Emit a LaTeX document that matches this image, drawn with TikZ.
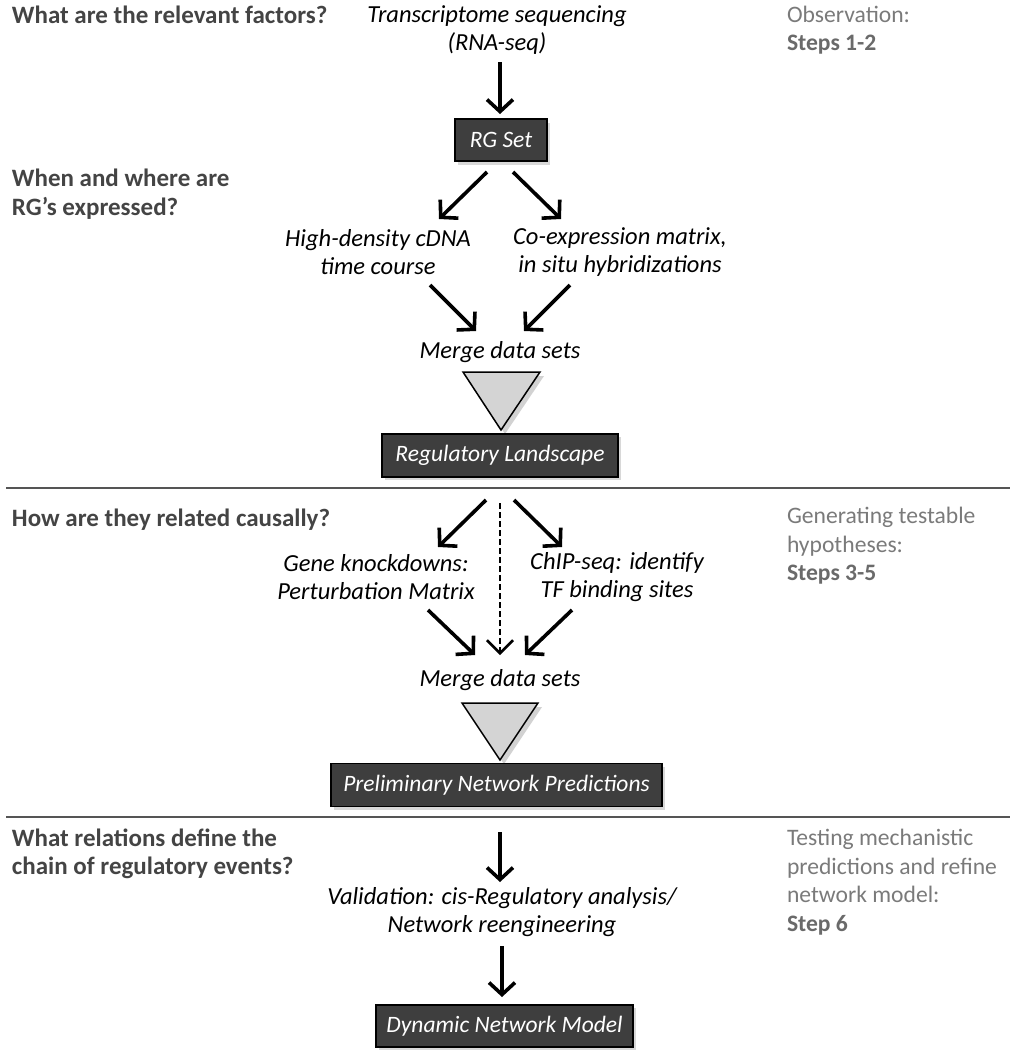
\documentclass[tikz,border=0pt]{standalone}
\usepackage{fontspec}
\setmainfont{Carlito}
\usetikzlibrary{arrows.meta}
\definecolor{headc}{HTML}{444444}
\definecolor{sidec}{HTML}{7A7A7A}
\definecolor{sideb}{HTML}{6A6A6A}
\definecolor{boxc}{HTML}{3E3E3E}
\definecolor{trif}{HTML}{D4D4D4}
\definecolor{sepc}{HTML}{555555}
\newcommand{\myfs}{\fontsize{24.5}{28.5}\selectfont}
\newcommand{\hdfs}{\fontsize{25}{28.5}\selectfont}
\newcommand{\sdfs}{\fontsize{23.6}{28.5}\selectfont}
\newcommand{\bxfs}{\fontsize{23.5}{28.5}\selectfont}
\tikzset{
  every node/.style={inner sep=0pt, outer sep=0pt},
  head/.style={font=\hdfs\bfseries, text=headc, align=left, anchor=west},
  side/.style={font=\sdfs, text=sidec, align=left, anchor=west},
  itext/.style={font=\myfs\itshape, align=center, text=black},
  darkbox/.style={draw=black, line width=1.2pt, fill=boxc, text=white, font=\bxfs\itshape, minimum height=#1},
  darkbox/.default=42pt,
  bigarrow/.style={line width=3.6pt, -{Straight Barb[length=12pt,width=26pt]}},
  dasharrow/.style={line width=2pt, dash pattern=on 6pt off 3pt, -{Straight Barb[length=13pt,width=26pt,line width=2.6pt]}},
  sepline/.style={draw=sepc, line width=1.8pt},
  tri/.style={draw=black, line width=1.5pt, fill=trif, line join=miter},
}
\begin{document}
\begin{tikzpicture}[x=1pt,y=-1pt]
\useasboundingbox (0,0) rectangle (1010,1050);

% left headings
\node[head] (h1) at (12,15) {What are the relevant factors?};
\node[head] (h2) at (12,194) {When and where are\\RG’s expressed?};
\node[head] (h3) at (12,520) {How are they related causally?};
\node[head] (h4) at (12,854) {What relations define the\\chain of regulatory events?};

% right side notes
\node[side] (r1) at (787,30) {Observation:\\\textbf{\color{sideb}Steps 1-2}};
\node[side] (r2) at (787,546) {Generating testable\\hypotheses:\\\textbf{\color{sideb}Steps 3-5}};
\node[side] (r3) at (787,882) {Testing mechanistic\\predictions and refine\\network model:\\\textbf{\color{sideb}Step 6}};

% separators
\draw[sepline] (6,488) coordinate (s1a) -- (1010,488) coordinate (s1b);
\draw[sepline] (6,817) coordinate (s2a) -- (1010,817) coordinate (s2b);

% section 1
\node[itext] (t1) at (497,30) {Transcriptome sequencing\\(RNA-seq)};
\fill[black!30, opacity=0.5] (458,123) rectangle (550,165);
\node[darkbox=42pt, minimum width=92pt] (rg) at (501,140) {RG Set};
\node[itext] (hd) at (378,252) {High-density cDNA\\time course};
\node[itext] (ce) at (620,252) {Co-expression matrix,\\in situ hybridizations};
\node[itext] (m1) at (500,352) {Merge data sets};

% triangle 1 (with soft shadow)
\fill[black!35, opacity=0.5] (467,376) -- (544,376) -- (505,434) -- cycle;
\draw[tri] (463,372) coordinate (tr1a) -- (540,372) coordinate (tr1b) -- (501,430) coordinate (tr1c) -- cycle;

\fill[black!30, opacity=0.5] (385,437) rectangle (621,480);
\node[darkbox=43pt, minimum width=236pt] (rl) at (500,455.5) {Regulatory Landscape};

% section 2
\node[itext] (gk) at (376,577) {Gene knockdowns:\\Perturbation Matrix};
\node[itext] (cs) at (617,577) {ChIP-seq: identify\\TF binding sites};
\node[itext] (m2) at (500,680) {Merge data sets};

\fill[black!35, opacity=0.5] (466,707) -- (542,707) -- (504,764) -- cycle;
\draw[tri] (462,703) coordinate (tr2a) -- (538,703) coordinate (tr2b) -- (500,760) coordinate (tr2c) -- cycle;

\fill[black!30, opacity=0.5] (334,767) rectangle (665,810);
\node[darkbox=43pt, minimum width=331pt] (pn) at (496.5,785) {Preliminary Network Predictions};

% section 3
\node[itext] (va) at (502,912) {Validation: cis-Regulatory analysis/\\Network reengineering};
\fill[black!30, opacity=0.5] (379,1008) rectangle (636,1050);
\node[darkbox=42pt, minimum width=257pt] (dn) at (504.5,1026) {Dynamic Network Model};

% arrow end points
\coordinate (a1s) at (500,62);   \coordinate (a1e) at (500,114);
\coordinate (a2s) at (487,172);  \coordinate (a2e) at (439,219);
\coordinate (a3s) at (513,172);  \coordinate (a3e) at (561,219);
\coordinate (a4s) at (430,285);  \coordinate (a4e) at (476,331);
\coordinate (a5s) at (570,285);  \coordinate (a5e) at (524,331);
\coordinate (b1s) at (486,500);  \coordinate (b1e) at (438,547);
\coordinate (b2s) at (514,500);  \coordinate (b2e) at (562,547);
\coordinate (b3s) at (500,503);  \coordinate (b3e) at (500,655);
\coordinate (b4s) at (428,610);  \coordinate (b4e) at (475,655);
\coordinate (b5s) at (572,610);  \coordinate (b5e) at (525,655);
\coordinate (c1s) at (500,832);  \coordinate (c1e) at (500,882);
\coordinate (c2s) at (502,946);  \coordinate (c2e) at (502,997);

\draw[bigarrow] (a1s) -- (a1e);
\draw[bigarrow] (a2s) -- (a2e);
\draw[bigarrow] (a3s) -- (a3e);
\draw[bigarrow] (a4s) -- (a4e);
\draw[bigarrow] (a5s) -- (a5e);
\draw[bigarrow] (b1s) -- (b1e);
\draw[bigarrow] (b2s) -- (b2e);
\draw[dasharrow] (b3s) -- (b3e);
\draw[bigarrow] (b4s) -- (b4e);
\draw[bigarrow] (b5s) -- (b5e);
\draw[bigarrow] (c1s) -- (c1e);
\draw[bigarrow] (c2s) -- (c2e);
\end{tikzpicture}
\end{document}
